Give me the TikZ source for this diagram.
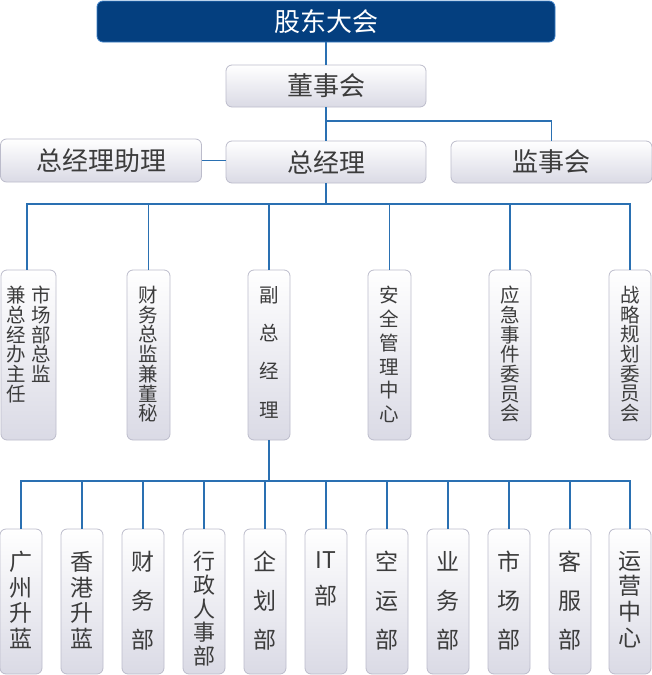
\documentclass[tikz,border=0pt]{standalone}
\usepackage{fontspec}
\newfontfamily\cjk{Noto Sans CJK SC}
\definecolor{topfill}{HTML}{043F7F}
\definecolor{topborder}{HTML}{3C7FC6}
\definecolor{linkblue}{HTML}{2A70B2}
\definecolor{boxborder}{HTML}{BCBCCB}
\definecolor{boxbot}{HTML}{DADAE5}
\definecolor{txt}{HTML}{3C3C3C}
\tikzset{
  box/.style={draw=boxborder, line width=0.8pt, rounded corners=6pt, top color=white, bottom color=boxbot, inner sep=0pt},
  topbox/.style={draw=topborder, line width=0.8pt, fill=topfill, rounded corners=6pt, inner sep=0pt,
    text=white, font=\cjk\fontsize{26}{28}\selectfont},
  hlabel/.style={text=txt, font=\cjk\fontsize{26}{28}\selectfont},
  vlabA/.style={text=txt, inner sep=0pt, anchor=north, align=center, font=\cjk\fontsize{19.5}{19.7}\selectfont},
  vlabB/.style={text=txt, inner sep=0pt, anchor=north, align=center, font=\cjk\fontsize{23}{24}\selectfont},
  link/.style={draw=linkblue, line width=1.2pt}
}
\begin{document}
\begin{tikzpicture}[x=1pt,y=-1pt]
\useasboundingbox (0,0) rectangle (652,675);
% top levels
\node[topbox, minimum width=458pt, minimum height=41pt] (gd) at (326,21.5) {股东大会};
\node[box, minimum width=200pt, minimum height=42pt, hlabel] (dsh) at (326,86) {董事会};
\node[box, minimum width=201pt, minimum height=43pt, hlabel] (zl) at (101,160.5) {总经理助理};
\node[box, minimum width=200pt, minimum height=42pt, hlabel] (gm) at (326,162) {总经理};
\node[box, minimum width=201pt, minimum height=42pt, hlabel] (jsh) at (551.5,162) {监事会};
\coordinate (j1) at (326,121);
\coordinate (bus1) at (326,204);
\coordinate (bus2) at (269,481);
% second level boxes
\node[box, minimum width=55pt, minimum height=170pt] (s1) at (28.5,355) {};
\node[box, minimum width=43pt, minimum height=170pt] (s2) at (148.5,355) {};
\node[box, minimum width=42pt, minimum height=170pt] (s3) at (269,355) {};
\node[box, minimum width=43pt, minimum height=170pt] (s4) at (389.5,355) {};
\node[box, minimum width=42pt, minimum height=170pt] (s5) at (510,355) {};
\node[box, minimum width=42pt, minimum height=170pt] (s6) at (630,355) {};
\node[vlabA] (t1a) at (41.5,286) {市\\场\\部\\总\\监};
\node[vlabA] (t1b) at (16,286) {兼\\总\\经\\办\\主\\任};
\node[vlabA] (t2) at (148.5,286) {财\\务\\总\\监\\兼\\董\\秘};
\node[vlabA, font=\cjk\fontsize{19.5}{38.3}\selectfont] (t3) at (269,286) {副\\总\\经\\理};
\node[vlabA, font=\cjk\fontsize{19.5}{23.8}\selectfont] (t4) at (389.5,286) {安\\全\\管\\理\\中\\心};
\node[vlabA] (t5) at (510,286) {应\\急\\事\\件\\委\\员\\会};
\node[vlabA] (t6) at (630,286) {战\\略\\规\\划\\委\\员\\会};
% third level boxes
\foreach \i/\x in {1/21,2/82,3/143,4/204,5/265,6/326,7/387,8/448,9/509,10/570,11/630}{
  \node[box, minimum width=42pt, minimum height=145pt] (d\i) at (\x,601.5) {};
}
\node[vlabB, font=\cjk\fontsize{23}{25.7}\selectfont] (u1) at (d1.north |- 0,551) {广\\州\\升\\蓝};
\node[vlabB, font=\cjk\fontsize{23}{25.7}\selectfont] (u2) at (d2.north |- 0,551) {香\\港\\升\\蓝};
\node[vlabB, font=\cjk\fontsize{23}{39}\selectfont] (u3) at (d3.north |- 0,551) {财\\务\\部};
\node[vlabB, font=\cjk\fontsize{22}{23.7}\selectfont] (u4) at (d4.north |- 0,551) {行\\政\\人\\事\\部};
\node[vlabB, font=\cjk\fontsize{23}{39}\selectfont] (u5) at (d5.north |- 0,551) {企\\划\\部};
\node[vlabB, font=\cjk\fontsize{23}{36}\selectfont] (u6) at (d6.north |- 0,551) {IT\\部};
\node[vlabB, font=\cjk\fontsize{23}{39}\selectfont] (u7) at (d7.north |- 0,551) {空\\运\\部};
\node[vlabB, font=\cjk\fontsize{23}{39}\selectfont] (u8) at (d8.north |- 0,551) {业\\务\\部};
\node[vlabB, font=\cjk\fontsize{23}{39}\selectfont] (u9) at (d9.north |- 0,551) {市\\场\\部};
\node[vlabB, font=\cjk\fontsize{23}{39}\selectfont] (u10) at (d10.north |- 0,551) {客\\服\\部};
\node[vlabB, font=\cjk\fontsize{23}{25.7}\selectfont] (u11) at (d11.north |- 0,551) {运\\营\\中\\心};
% connectors
\draw[link] (gd.south) -- (dsh.north);
\draw[link] (dsh.south) -- (gm.north);
\draw[link] (j1) -| (jsh.north);
\draw[link] (zl.east) -- (gm.west |- zl.east);
\draw[link] (gm.south) -- (bus1);
\draw[link] ([xshift=-1.5pt]s1.north) |- (bus1) -| (s6.north);
\foreach \i in {2,3,4,5}{ \draw[link] (s\i.north) -- (s\i.north |- bus1); }
\draw[link] (s3.south) -- (bus2);
\draw[link] (d1.north) |- (bus2) -| (d11.north);
\foreach \i in {2,...,10}{ \draw[link] (d\i.north) -- (d\i.north |- bus2); }
\end{tikzpicture}
\end{document}
